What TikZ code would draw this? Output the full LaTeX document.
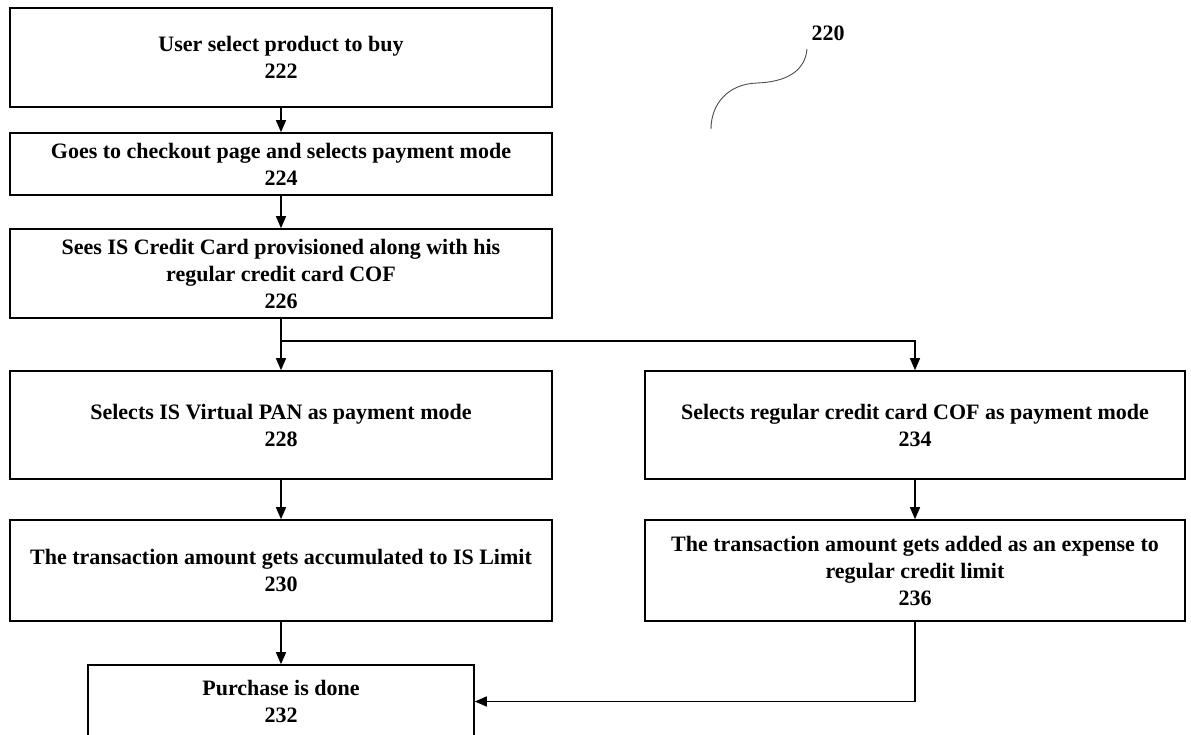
\documentclass[tikz,border=0pt]{standalone}
\usepackage{fontspec}
\setmainfont{Liberation Serif}
\usetikzlibrary{arrows.meta}
\tikzset{
  box/.style={draw=black, line width=1.6pt, inner sep=0pt, align=center,
    font=\fontsize{22}{27}\selectfont\bfseries},
  flow/.style={line width=1.4pt, -{Triangle[length=12pt,width=10pt]}},
}
\begin{document}
\begin{tikzpicture}[x=1pt,y=-1pt]
\useasboundingbox (0,0) rectangle (1191,735);
\clip (0,0) rectangle (1191,735);
\node[box, minimum width=542pt, minimum height=99pt] (n222) at (281,57.5) {User select product to buy\\222};
\node[box, minimum width=542pt, minimum height=62pt] (n224) at (281,164) {Goes to checkout page and selects payment mode\\224};
\node[box, minimum width=542pt, minimum height=89pt] (n226) at (281,273.5) {Sees IS Credit Card provisioned along with his\\regular credit card COF\\226};
\node[box, minimum width=542pt, minimum height=108pt] (n228) at (281,425) {Selects IS Virtual PAN as payment mode\\228};
\node[box, minimum width=542pt, minimum height=101pt] (n230) at (281,570.5) {The transaction amount gets accumulated to IS Limit\\230};
\node[box, minimum width=386pt, minimum height=73pt] (n232) at (281,701.5) {Purchase is done\\232};
\node[box, minimum width=540pt, minimum height=108pt] (n234) at (915,425) {Selects regular credit card COF as payment mode\\234};
\node[box, minimum width=540pt, minimum height=101pt] (n236) at (915,570.5) {The transaction amount gets added as an expense to\\regular credit limit\\236};
\node[font=\fontsize{22}{27}\selectfont\bfseries] (n220) at (828,33) {220};
\coordinate (c1) at (807,49);
\coordinate (c2) at (711,129);
\draw[flow] (n222.south) -- (n224.north);
\draw[flow] (n224.south) -- (n226.north);
\draw[flow] (n226.south) -- (n228.north);
\draw[flow] (n226.south) -- ++(0,22) -| (n234.north);
\draw[flow] (n228.south) -- (n230.north);
\draw[flow] (n230.south) -- (n232.north);
\draw[flow] (n234.south) -- (n236.north);
\draw[flow] (n236.south) |- (n232.east);
\draw[line width=0.9pt, black!70] (c1) .. controls (805,72) and (785,82) .. (757,83) .. controls (727,84) and (711,105) .. (c2);
\end{tikzpicture}
\end{document}
